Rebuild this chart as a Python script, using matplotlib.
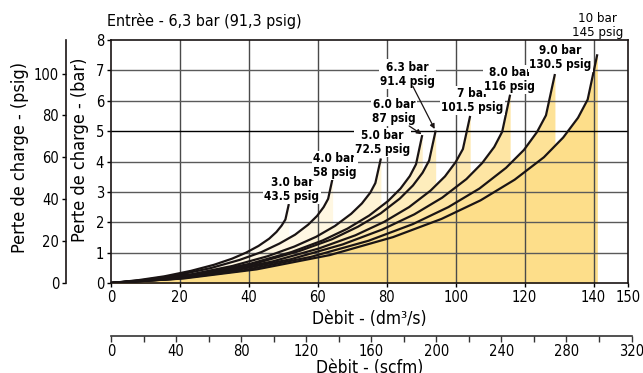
import numpy as np
import matplotlib
matplotlib.use('Agg')
import matplotlib.pyplot as plt

plt.rcParams['font.family'] = ['DejaVu Sans']
plt.rcParams['font.stretch'] = 'condensed'

# courbes : debit (dm3/s) -> perte de charge (bar)
x_30 = [0, 7.7, 15.5, 23.2, 29.9, 35.1, 39.2, 42.8, 45.9, 48.0, 49.5, 50.6, 51.6]
y_30 = [0, 0.09, 0.22, 0.40, 0.60, 0.80, 1.00, 1.22, 1.46, 1.68, 1.89, 2.09, 2.60]
x_40 = [0, 9.6, 19.3, 28.9, 37.3, 43.7, 48.9, 53.4, 57.2, 59.8, 61.7, 63.0, 64.3]
y_40 = [0, 0.10, 0.26, 0.49, 0.76, 1.02, 1.30, 1.59, 1.92, 2.21, 2.50, 2.77, 3.45]
x_50 = [0, 11.7, 23.5, 35.2, 45.4, 53.2, 59.5, 65.0, 69.7, 72.8, 75.2, 76.7, 78.3]
y_50 = [0, 0.11, 0.29, 0.56, 0.88, 1.20, 1.52, 1.88, 2.28, 2.62, 2.97, 3.29, 4.10]
x_60 = [0, 13.5, 27.1, 40.6, 52.4, 61.4, 68.6, 74.9, 80.4, 84.0, 86.7, 88.5, 90.3]
y_60 = [0, 0.12, 0.33, 0.64, 1.02, 1.40, 1.79, 2.22, 2.70, 3.11, 3.52, 3.91, 4.87]
x_63 = [0, 14.1, 28.3, 42.4, 54.6, 64.1, 71.6, 78.2, 83.8, 87.6, 90.4, 92.3, 94.2]
y_63 = [0, 0.12, 0.33, 0.66, 1.05, 1.44, 1.85, 2.29, 2.78, 3.21, 3.63, 4.03, 5.02]
x_70 = [0, 15.6, 31.3, 46.9, 60.4, 70.9, 79.2, 86.5, 92.7, 96.9, 100.0, 102.1, 104.2]
y_70 = [0, 0.12, 0.36, 0.71, 1.14, 1.57, 2.01, 2.50, 3.04, 3.51, 3.98, 4.41, 5.50]
x_80 = [0, 17.4, 34.7, 52.1, 67.2, 78.7, 88.0, 96.1, 103.1, 107.7, 111.2, 113.5, 115.8]
y_80 = [0, 0.13, 0.39, 0.78, 1.27, 1.76, 2.26, 2.81, 3.42, 3.95, 4.48, 4.98, 6.20]
x_90 = [0, 19.3, 38.6, 58.0, 74.7, 87.6, 97.9, 106.9, 114.6, 119.8, 123.6, 126.2, 128.8]
y_90 = [0, 0.14, 0.42, 0.86, 1.39, 1.94, 2.50, 3.11, 3.79, 4.38, 4.97, 5.52, 6.88]
x_100 = [0, 21.2, 42.3, 63.5, 81.8, 95.9, 107.2, 117.1, 125.6, 131.2, 135.5, 138.3, 141.1]
y_100 = [0, 0.15, 0.45, 0.92, 1.51, 2.11, 2.72, 3.40, 4.14, 4.79, 5.44, 6.04, 7.53]

courbes_x = [x_30, x_40, x_50, x_60, x_63, x_70, x_80, x_90, x_100]
courbes_y = [y_30, y_40, y_50, y_60, y_63, y_70, y_80, y_90, y_100]

etiquettes = ['3.0 bar\n43.5 psig', '4.0 bar\n58 psig', '5.0 bar\n72.5 psig',
              '6.0 bar\n87 psig', '6.3 bar\n91.4 psig', '7 bar\n101.5 psig',
              '8.0 bar\n116 psig', '9.0 bar\n130.5 psig', '10 bar\n145 psig']
etiq_x = [52.5, 64.9, 78.8, 82.1, 86.1, 104.9, 115.7, 130.4, 141.2]
etiq_y = [3.09, 3.88, 4.62, 5.66, 6.88, 6.02, 6.71, 7.43, 8.49]

ticks_dm3 = [0, 20, 40, 60, 80, 100, 120, 140, 150]
ticks_bar = [0, 1, 2, 3, 4, 5, 6, 7, 8]
ticks_psig = [0, 20, 40, 60, 80, 100]
ticks_scfm = [0, 40, 80, 120, 160, 200, 240, 280, 320]

# couleurs du plus clair (3 bar) au plus fonce (10 bar)
couleurs = ['#fffbee', '#fff7e2', '#fef4d5', '#fef0c9', '#feedbc',
            '#fee9b0', '#fee5a3', '#fde297', '#fdde8a']

W, H = 643, 373
fig = plt.figure(figsize=(W / 100, H / 100), dpi=100)
ax = fig.add_axes([111 / W, 1 - 283 / H, 517 / W, 243 / H])

for cx, cy, c in zip(courbes_x, courbes_y, couleurs):
    ax.fill_between(cx, cy, 0, color=c, lw=0, zorder=1)

# grille
for v in ticks_dm3[1:-1]:
    ax.axvline(v, color='#4a4a4a', lw=1.0, zorder=2)
for v in ticks_bar[1:-1]:
    ax.axhline(v, color='#000000' if v == 5 else '#5a5a5a', lw=1.0, zorder=2)

for cx, cy in zip(courbes_x, courbes_y):
    ax.plot(cx, cy, color='#1a1414', lw=1.6, zorder=3, solid_capstyle='butt')

for i, (tx, ty, t) in enumerate(zip(etiq_x, etiq_y, etiquettes)):
    if i == 8:
        ax.text(tx, ty, t, ha='center', va='center', fontsize=9.5,
                linespacing=1.1, zorder=4, clip_on=False)
    else:
        ax.text(tx, ty, t, ha='center', va='center', fontsize=8.5,
                fontweight='bold', linespacing=1.1, zorder=4, clip_on=False,
                bbox=dict(fc='white', ec='none', pad=0.8))

# fleches 6.0 et 6.3 bar
ax.annotate('', xy=(90.1, 4.9), xytext=(86.5, 5.17),
            arrowprops=dict(arrowstyle='-|>', color='#1a1414', lw=0.9,
                            mutation_scale=7, shrinkA=0, shrinkB=0), zorder=5)
ax.annotate('', xy=(93.9, 5.07), xytext=(87.6, 6.47),
            arrowprops=dict(arrowstyle='-|>', color='#1a1414', lw=0.9,
                            mutation_scale=7, shrinkA=0, shrinkB=0), zorder=5)

ax.set_xlim(0, 150)
ax.set_ylim(0, 8)
ax.set_xticks(ticks_dm3)
ax.set_yticks(ticks_bar)
ax.tick_params(direction='out', length=3, width=1, labelsize=10.5, pad=2)
for s in ax.spines.values():
    s.set_color('#1a1414')
    s.set_linewidth(1.2)
    s.set_zorder(6)

# axe psig
ax_psi = ax.twinx()
ax_psi.set_ylim(0, 8 * 14.5)
ax_psi.set_yticks(ticks_psig)
ax_psi.spines['right'].set_visible(False)
ax_psi.spines['top'].set_visible(False)
ax_psi.spines['bottom'].set_visible(False)
ax_psi.spines['left'].set_position(('outward', 32.4))
ax_psi.spines['left'].set_color('#1a1414')
ax_psi.spines['left'].set_linewidth(1.2)
ax_psi.yaxis.set_ticks_position('left')
ax_psi.tick_params(direction='out', length=3, width=1, labelsize=10.5, pad=2)

# axe scfm
ax2 = fig.add_axes([111 / W, 1 - 336 / H, 520.5 / W, 0.0001])
ax2.set_xlim(0, 320)
ax2.set_xticks(ticks_scfm)
ax2.set_xticks([20, 60, 100, 140, 180, 220, 260, 300], minor=True)
ax2.set_yticks([])
for k in ['top', 'left', 'right']:
    ax2.spines[k].set_visible(False)
ax2.spines['bottom'].set_color('#333333')
ax2.spines['bottom'].set_linewidth(1.2)
ax2.patch.set_alpha(0)
ax2.tick_params(axis='x', which='both', direction='out', length=4, width=1,
                color='#333333', labelsize=10.5, pad=2)

fig.text(107 / W, 1 - 21 / H, 'Entrèe - 6,3 bar (91,3 psig)', fontsize=11.5,
         ha='left', va='center')
fig.text(369.5 / W, 1 - 319 / H, 'Dèbit - (dm³/s)', fontsize=12.5,
         ha='center', va='center')
fig.text(369.5 / W, 1 - 359 / H, 'Dèbit - (scfm)', fontsize=12.5,
         ha='center', va='top')
fig.text(20 / W, 1 - 157 / H, 'Perte de charge - (psig)', fontsize=13,
         rotation=90, ha='center', va='center')
fig.text(80 / W, 1 - 150 / H, 'Perte de charge - (bar)', fontsize=13,
         rotation=90, ha='center', va='center')

fig.savefig('out.png', dpi=100)
